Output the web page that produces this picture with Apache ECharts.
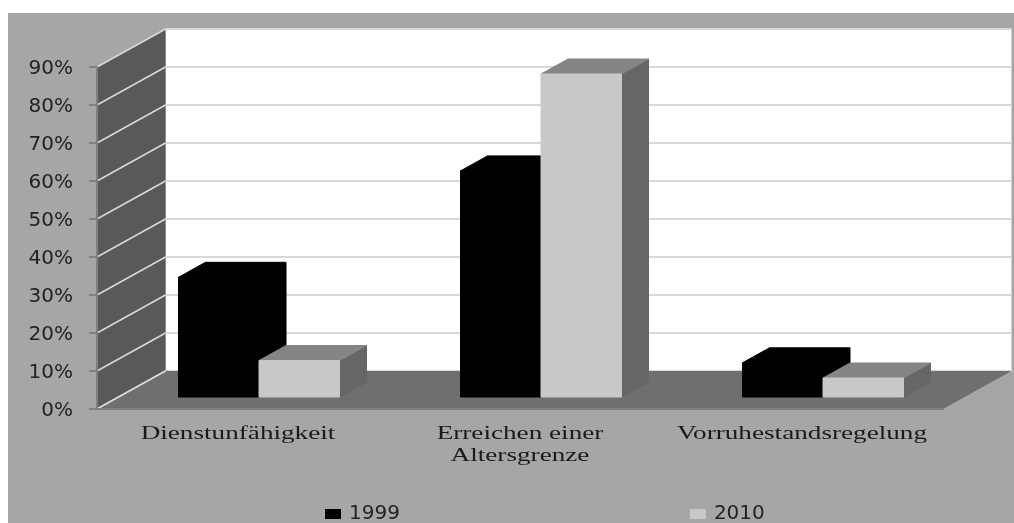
<!DOCTYPE html>
<html>
<head>
<meta charset="utf-8">
<script src="https://cdn.jsdelivr.net/npm/echarts@6/dist/echarts.min.js"></script>
<style>
    html, body { margin: 0; padding: 0; background: #fff; overflow: hidden; }
    #chart { position: absolute; left: 8px; top: 13px; width: 1006px; height: 510px; filter: blur(0.6px); }
</style>
</head>
<body>
<div id="chart"></div>
<script>
var categories = ['Dienstunfähigkeit', 'Erreichen einer\nAltersgrenze', 'Vorruhestandsregelung'];
var values1999 = [31.5, 59.5, 9];
var values2010 = [9.6, 85, 5];
var wallLevels = [0, 10, 20, 30, 40, 50, 60, 70, 80, 90];

// depth of the 3d box and of the plane the bars stand on, in px
var WALL_DX = 68.5, WALL_DY = 38;
var PLANE_DX = 21, PLANE_DY = 12;
var BAR_DX = 27, BAR_DY = 15;
var BAR_SHARE = 0.2855;

function poly(points, fill, stroke) {
    return {
        type: 'polygon',
        shape: { points: points },
        style: { fill: fill, stroke: stroke || null, lineWidth: 1 }
    };
}

function line(x1, y1, x2, y2, color, width) {
    return {
        type: 'line',
        shape: { x1: x1, y1: y1, x2: x2, y2: y2 },
        style: { stroke: color, lineWidth: width }
    };
}

function renderBox(params, api) {
    var r = params.coordSys;
    var left = r.x, right = r.x + r.width;
    var y0 = api.coord([0, 0])[1];
    var yTop = api.coord([0, 90])[1];
    var kids = [
        poly([[left + WALL_DX, yTop - WALL_DY], [right + WALL_DX, yTop - WALL_DY], [right + WALL_DX, y0 - WALL_DY], [left + WALL_DX, y0 - WALL_DY]], '#ffffff', '#d0d0d0'),
        poly([[left, y0], [left, yTop], [left + WALL_DX, yTop - WALL_DY], [left + WALL_DX, y0 - WALL_DY]], '#595959', '#8c8c8c')
    ];
    wallLevels.forEach(function (v) {
        var y = api.coord([0, v])[1];
        kids.push(line(left + WALL_DX, y - WALL_DY, right + WALL_DX, y - WALL_DY, '#d9d9d9', 2));
        kids.push(line(left, y, left + WALL_DX, y - WALL_DY, '#d9d9d9', 1.5));
    });
    // floor sits over the lowest back line
    kids.push(poly([[left, y0], [right, y0], [right + WALL_DX, y0 - WALL_DY], [left + WALL_DX, y0 - WALL_DY]], '#6f6f6f'));
    kids.push(line(left, y0, left + WALL_DX, y0 - WALL_DY, '#d9d9d9', 1.5));
    return { type: 'group', children: kids };
}

function barRenderer(side, front, top, right) {
    return function (params, api) {
        var p = api.coord([api.value(0), api.value(1)]);
        var base = api.coord([api.value(0), 0]);
        var w = api.size([1, 0])[0] * BAR_SHARE;
        var x0 = base[0] + PLANE_DX + (side < 0 ? -w : 0);
        var x1 = x0 + w;
        var yB = base[1] - PLANE_DY;
        var yT = p[1] - PLANE_DY;
        return {
            type: 'group',
            children: [
                poly([[x1, yB], [x1 + BAR_DX, yB - BAR_DY], [x1 + BAR_DX, yT - BAR_DY], [x1, yT]], right, right),
                poly([[x0, yT], [x1, yT], [x1 + BAR_DX, yT - BAR_DY], [x0 + BAR_DX, yT - BAR_DY]], top, top),
                poly([[x0, yB], [x1, yB], [x1, yT], [x0, yT]], front, front)
            ]
        };
    };
}

function renderCategory(params, api) {
    var c = api.coord([api.value(0), 0]);
    return {
        type: 'text',
        x: c[0],
        y: c[1] + 14,
        scaleX: 1.51,
        style: {
            text: categories[api.value(0)],
            font: '18px "Liberation Serif"',
            lineHeight: 22,
            fill: '#1a1a1a',
            align: 'center',
            verticalAlign: 'top'
        }
    };
}

function pairs(arr) {
    return arr.map(function (v, i) { return [i, v]; });
}

var chart = echarts.init(document.getElementById('chart'));
var option = {
    animation: false,
    backgroundColor: '#a6a6a6',
    grid: { left: 89, top: 54, width: 846, height: 342 },
    legend: {
        data: ['1999', '2010'],
        left: 317,
        top: 491,
        padding: 0,
        icon: 'rect',
        itemWidth: 16,
        itemHeight: 10,
        itemGap: 290,
        textStyle: { color: '#222', fontFamily: 'DejaVu Sans', fontSize: 20, padding: [0, 0, 0, 3] }
    },
    xAxis: {
        type: 'category',
        data: categories,
        z: 10,
        axisLine: { lineStyle: { color: '#808080', width: 2 } },
        axisTick: { length: 5, lineStyle: { color: '#808080', width: 2 } },
        axisLabel: { show: false },
        splitLine: { show: false }
    },
    yAxis: {
        type: 'value',
        min: 0,
        max: 90,
        interval: 10,
        z: 10,
        axisLine: { show: true, lineStyle: { color: '#808080', width: 2 } },
        axisTick: { show: true, length: 8, lineStyle: { color: '#808080', width: 2 } },
        axisLabel: {
            formatter: '{value}%',
            margin: 24,
            color: '#222',
            fontFamily: 'DejaVu Sans',
            fontSize: 20,
            verticalAlign: 'top',
            lineHeight: 4
        },
        splitLine: { show: false }
    },
    series: [
        { name: 'walls', type: 'custom', silent: true, clip: false, z: 1, data: [[0, 0]], renderItem: renderBox },
        { name: '1999', type: 'custom', clip: false, z: 2, itemStyle: { color: '#000000' }, data: pairs(values1999), renderItem: barRenderer(-1, '#000000', '#000000', '#000000') },
        { name: '2010', type: 'custom', clip: false, z: 3, itemStyle: { color: '#c8c8c8' }, data: pairs(values2010), renderItem: barRenderer(1, '#c8c8c8', '#858585', '#666666') },
        { name: 'labels', type: 'custom', silent: true, clip: false, z: 4, data: pairs([0, 0, 0]), renderItem: renderCategory }
    ]
};
chart.setOption(option);
window.addEventListener('resize', function () {
    chart.resize();
});
</script>
</body>
</html>
